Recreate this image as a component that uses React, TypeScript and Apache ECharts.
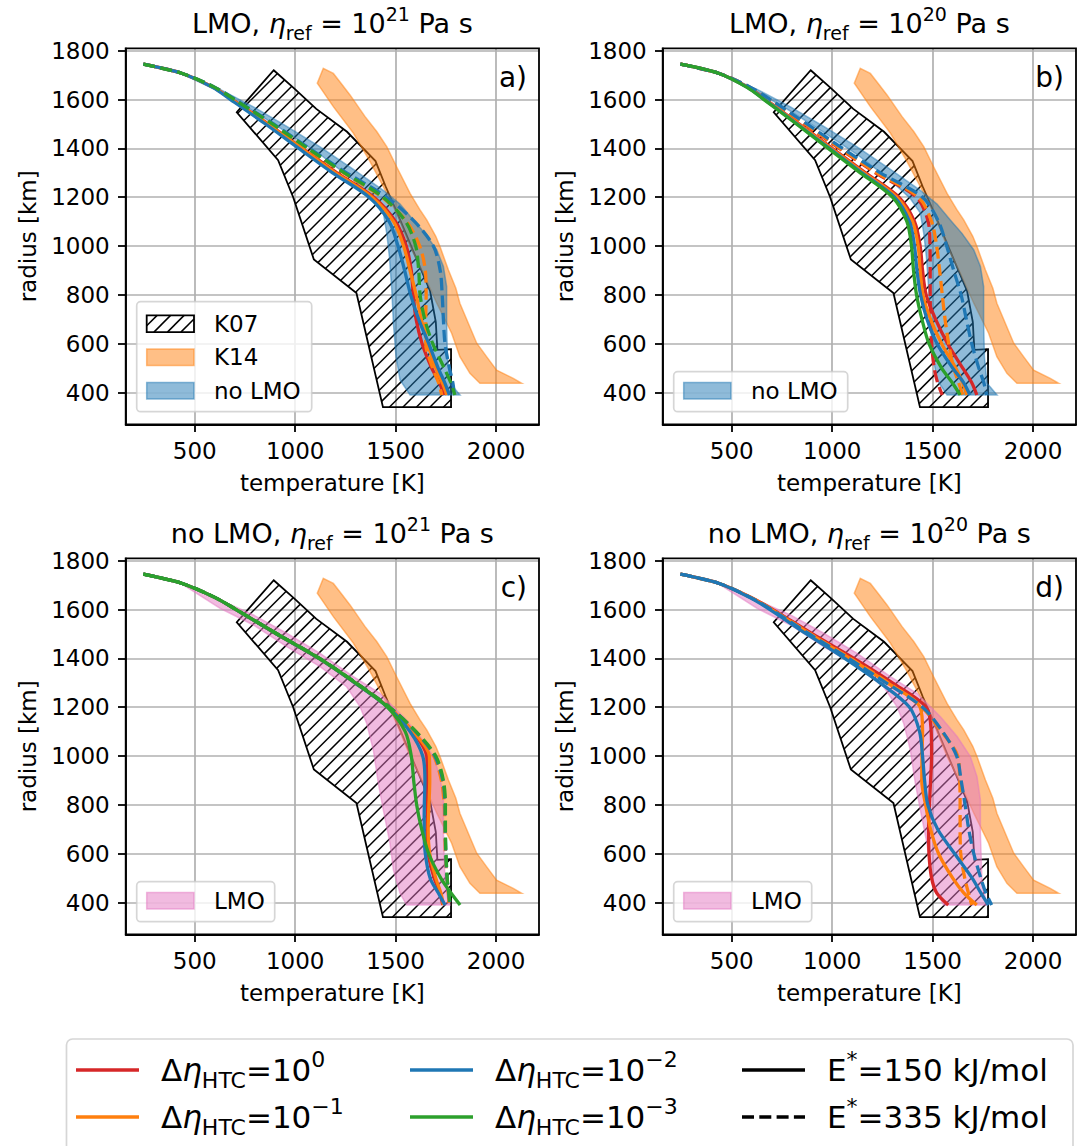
import React, { useEffect, useRef } from "react";
import * as echarts from "echarts";

const FONT = "DejaVu Sans";

// ---------- axes ----------
const T_MIN = 156;
const T_MAX = 2214;
const R_MIN = 270;
const R_MAX = 1810;
const TEMP_TICKS = [500, 1000, 1500, 2000];
const RADIUS_TICKS = [400, 600, 800, 1000, 1200, 1400, 1600, 1800];

// ---------- reference regions [T (K), radius (km)] ----------
const K07 = [
  [893, 1720], [992, 1648], [1105, 1562], [1258, 1468], [1400, 1348], [1450, 1245],
  [1510, 1132], [1672, 815], [1700, 690], [1708, 575], [1776, 578], [1776, 340],
  [1437, 340], [1305, 808], [1093, 945], [990, 1200], [915, 1352], [709, 1548],
];
const K14 = [
  [1140, 1728], [1190, 1707], [1230, 1665], [1273, 1619], [1310, 1575], [1348, 1530],
  [1406, 1469], [1456, 1407], [1505, 1325], [1572, 1216], [1620, 1150], [1655, 1107],
  [1700, 1040], [1721, 998], [1763, 902], [1800, 827], [1820, 766], [1862, 684],
  [1904, 602], [1953, 547], [2003, 492], [2086, 458], [2128, 438], [1920, 438],
  [1870, 479], [1820, 547], [1779, 643], [1705, 766], [1638, 888], [1572, 998],
  [1505, 1134], [1439, 1243], [1370, 1350], [1290, 1462], [1190, 1571], [1110, 1667],
];
const NO_LMO_BAND = [
  [443, 1702], [626, 1632], [792, 1553], [958, 1466], [1124, 1375], [1290, 1270],
  [1389, 1195], [1439, 1135], [1456, 1052], [1469, 957], [1481, 820], [1489, 684],
  [1502, 547], [1522, 452], [1572, 390], [1821, 390], [1771, 438], [1758, 547],
  [1754, 684], [1754, 834], [1738, 916], [1705, 984], [1646, 1052], [1588, 1107],
  [1522, 1172], [1439, 1228], [1290, 1314], [1124, 1406], [958, 1490], [792, 1570],
  [626, 1642], [443, 1707],
];
const LMO_BAND = [
  [443, 1701], [626, 1605], [792, 1537], [958, 1448], [1124, 1366], [1256, 1284],
  [1323, 1202], [1356, 1134], [1389, 1025], [1414, 888], [1439, 779], [1472, 643],
  [1489, 534], [1522, 438], [1555, 390], [1771, 390], [1746, 479], [1738, 684],
  [1738, 820], [1721, 916], [1688, 998], [1622, 1080], [1539, 1161], [1422, 1257],
  [1290, 1325], [1124, 1421], [958, 1503], [792, 1578], [626, 1639], [443, 1707],
];

// ---------- temperature profiles: T (K) at these radii (km) ----------
const RADIUS = [1745, 1707, 1650, 1600, 1500, 1400, 1300, 1200, 1100, 1000, 900, 800, 700, 600, 500, 440, 390];

// a) LMO, eta_ref = 1e21
const A_RED_SOLID = [244, 437, 593, 686, 866, 1035, 1208, 1392, 1500, 1553, 1578, 1588, 1602, 1632, 1680, 1718, 1742];
const A_ORANGE_SOLID = [244, 437, 592, 684, 862, 1030, 1200, 1383, 1490, 1540, 1572, 1602, 1628, 1660, 1700, 1733, 1755];
const A_ORANGE_DASHED = [244, 437, 598, 696, 882, 1058, 1240, 1432, 1555, 1620, 1648, 1652, 1650, 1650, 1685, 1714, 1730];
const A_BLUE_SOLID = [244, 437, 589, 678, 852, 1018, 1186, 1368, 1468, 1512, 1545, 1575, 1615, 1665, 1712, 1745, 1768];
const A_BLUE_DASHED = [244, 437, 601, 702, 892, 1070, 1256, 1456, 1595, 1688, 1722, 1732, 1738, 1746, 1768, 1785, 1793];
const A_GREEN_DASHED = [244, 437, 599, 698, 886, 1063, 1245, 1437, 1550, 1600, 1615, 1622, 1645, 1685, 1742, 1775, 1795];

// b) LMO, eta_ref = 1e20
const B_RED_SOLID = [244, 437, 582, 669, 836, 1000, 1166, 1332, 1410, 1438, 1450, 1468, 1515, 1575, 1650, 1695, 1720];
const B_RED_DASHED = [244, 437, 590, 685, 862, 1035, 1215, 1420, 1478, 1487, 1488, 1488, 1490, 1495, 1508, 1525, 1548];
const B_ORANGE_SOLID = [244, 437, 580, 666, 832, 994, 1158, 1322, 1400, 1428, 1438, 1452, 1490, 1545, 1615, 1650, 1670];
const B_ORANGE_DASHED = [244, 437, 591, 687, 866, 1040, 1222, 1430, 1495, 1520, 1535, 1548, 1562, 1580, 1605, 1630, 1650];
const B_BLUE_SOLID = [244, 437, 578, 663, 826, 986, 1148, 1310, 1385, 1410, 1422, 1440, 1472, 1522, 1600, 1655, 1686];
const B_BLUE_DASHED = [244, 437, 594, 692, 874, 1052, 1240, 1450, 1530, 1570, 1605, 1642, 1668, 1695, 1730, 1755, 1769];
const B_GREEN_SOLID = [244, 437, 576, 660, 822, 980, 1140, 1300, 1372, 1395, 1405, 1420, 1447, 1482, 1545, 1598, 1637];

// c) no LMO, eta_ref = 1e21
const C_RED_SOLID = [244, 437, 599, 705, 908, 1118, 1298, 1465, 1585, 1655, 1658, 1658, 1656, 1662, 1692, 1720, 1735];
const C_ORANGE_SOLID = [244, 437, 599, 705, 908, 1118, 1298, 1465, 1588, 1668, 1670, 1666, 1662, 1670, 1700, 1725, 1738];
const C_ORANGE_DASHED = [244, 437, 600, 706, 910, 1121, 1302, 1470, 1600, 1690, 1728, 1742, 1745, 1748, 1755, 1762, 1766];
const C_BLUE_SOLID = [244, 437, 599, 705, 908, 1118, 1297, 1462, 1572, 1635, 1646, 1643, 1642, 1648, 1672, 1712, 1746];
const C_BLUE_DASHED = [244, 437, 600, 706, 910, 1121, 1302, 1470, 1600, 1695, 1735, 1746, 1747, 1750, 1756, 1764, 1770];
const C_GREEN_SOLID = [244, 437, 600, 706, 910, 1120, 1300, 1460, 1548, 1578, 1590, 1605, 1630, 1665, 1725, 1775, 1821];
const C_GREEN_DASHED = [244, 437, 600, 706, 910, 1121, 1302, 1470, 1602, 1700, 1738, 1748, 1748, 1751, 1757, 1765, 1772];

// d) no LMO, eta_ref = 1e20
const D_RED_SOLID = [244, 437, 597, 705, 902, 1108, 1300, 1468, 1493, 1495, 1490, 1484, 1480, 1482, 1495, 1520, 1578];
const D_ORANGE_SOLID = [244, 437, 593, 699, 890, 1088, 1275, 1438, 1450, 1447, 1446, 1465, 1490, 1530, 1600, 1655, 1720];
const D_ORANGE_DASHED = [244, 437, 594, 700, 892, 1092, 1280, 1446, 1545, 1625, 1635, 1637, 1637, 1640, 1660, 1678, 1695];
const D_BLUE_SOLID = [244, 437, 588, 690, 872, 1062, 1238, 1385, 1435, 1450, 1460, 1476, 1525, 1610, 1697, 1740, 1778];
const D_BLUE_DASHED = [244, 437, 592, 697, 886, 1082, 1268, 1450, 1550, 1620, 1642, 1662, 1680, 1705, 1740, 1765, 1794];

const PANEL_RUNS: Record<string, (number[] | null)[]>[] = [
  { red: [A_RED_SOLID, null], orange: [A_ORANGE_SOLID, A_ORANGE_DASHED], blue: [A_BLUE_SOLID, A_BLUE_DASHED], green: [null, A_GREEN_DASHED] },
  { red: [B_RED_SOLID, B_RED_DASHED], orange: [B_ORANGE_SOLID, B_ORANGE_DASHED], blue: [B_BLUE_SOLID, B_BLUE_DASHED], green: [B_GREEN_SOLID, null] },
  { red: [C_RED_SOLID, null], orange: [C_ORANGE_SOLID, C_ORANGE_DASHED], blue: [C_BLUE_SOLID, C_BLUE_DASHED], green: [C_GREEN_SOLID, C_GREEN_DASHED] },
  { red: [D_RED_SOLID, null], orange: [D_ORANGE_SOLID, D_ORANGE_DASHED], blue: [D_BLUE_SOLID, D_BLUE_DASHED], green: [null, null] },
];

const PANEL_SCENARIO = ["LMO", "LMO", "no LMO", "no LMO"];
const PANEL_ETA_EXP = ["21", "20", "21", "20"];
const PANEL_LETTER = ["a)", "b)", "c)", "d)"];
const PANEL_BAND_LABEL = ["no LMO", "no LMO", "LMO", "LMO"];

const HTC_EXPONENTS = ["0", "\u22121", "\u22122", "\u22123"];
const ACTIVATION_ENERGIES = ["150", "335"];

// ---------- styling ----------
const COLORS: Record<string, string> = {
  red: "#d62728",
  orange: "#ff7f0e",
  blue: "#1f77b4",
  green: "#2ca02c",
};
const K14_FILL = "rgba(255,127,14,0.5)";
const NO_LMO_FILL = "rgba(31,119,180,0.5)";
const LMO_FILL = "rgba(227,119,194,0.5)";

const PANEL_POS = [
  [125.7, 48.3],
  [662.7, 48.3],
  [125.7, 558.3],
  [662.7, 558.3],
];
const PANEL_W = 413.3;
const PANEL_H = 376;
const LINE_W = 3.3;
const DASH = [12, 5.3];
const HATCH_STEP = 13.5;
const FS = 23;

function hatchSegments(pts: number[][], step: number) {
  const sums = pts.map((p) => p[0] + p[1]);
  const cmin = Math.min(...sums);
  const cmax = Math.max(...sums);
  const segs: number[][] = [];
  for (let c = Math.ceil(cmin / step) * step; c <= cmax; c += step) {
    const xs: number[] = [];
    for (let i = 0; i < pts.length; i++) {
      const a = pts[i];
      const b = pts[(i + 1) % pts.length];
      const fa = a[0] + a[1] - c;
      const fb = b[0] + b[1] - c;
      if ((fa < 0 && fb >= 0) || (fa >= 0 && fb < 0)) {
        const t = fa / (fa - fb);
        xs.push(a[0] + t * (b[0] - a[0]));
      }
    }
    xs.sort((p, q) => p - q);
    for (let k = 0; k + 1 < xs.length; k += 2) {
      segs.push([xs[k], c - xs[k], xs[k + 1], c - xs[k + 1]]);
    }
  }
  return segs;
}

function hatchElements(pts: number[][], z?: number) {
  return hatchSegments(pts, HATCH_STEP).map((s) => ({
    type: "line",
    z,
    shape: { x1: s[0], y1: s[1], x2: s[2], y2: s[3] },
    style: { stroke: "#000", lineWidth: 1.5 },
    silent: true,
  }));
}

function richBase(size: number) {
  const big = size;
  const small = Math.round(size * 0.7);
  return {
    n: { fontSize: big, fontFamily: FONT, fill: "#000", color: "#000", lineHeight: Math.round(big * 1.4) },
    i: { fontSize: big, fontFamily: FONT, fontStyle: "italic", fill: "#000", color: "#000", lineHeight: Math.round(big * 1.4) },
    s: { fontSize: small, fontFamily: FONT, fill: "#000", color: "#000", verticalAlign: "bottom", lineHeight: small },
    p: { fontSize: small, fontFamily: FONT, fill: "#000", color: "#000", verticalAlign: "top", lineHeight: small },
  };
}

function buildOption() {
  const grid: any[] = [];
  const xAxis: any[] = [];
  const yAxis: any[] = [];
  const series: any[] = [];
  const elements: any[] = [];

  PANEL_POS.forEach(([pl, pt], i) => {
    grid.push({ left: pl, top: pt, width: PANEL_W, height: PANEL_H, containLabel: false, outerBoundsMode: "none" });
    xAxis.push({
      gridIndex: i,
      type: "value",
      min: T_MIN,
      max: T_MAX,
      splitNumber: 5,
      axisLine: { show: true, onZero: false, lineStyle: { color: "#000", width: 1.8 } },
      axisTick: { show: true, length: 7.7, customValues: TEMP_TICKS, lineStyle: { color: "#000", width: 1.8 } },
      axisLabel: {
        customValues: TEMP_TICKS,
        margin: 15,
        fontSize: FS,
        fontFamily: FONT,
        color: "#000",
        formatter: (v: number) => (v % 500 === 0 ? String(v) : ""),
      },
      splitLine: { show: true, lineStyle: { color: "#b0b0b0", width: 1.7 } },
      name: "temperature [K]",
      nameLocation: "middle",
      nameGap: 47,
      nameTextStyle: { fontSize: FS, fontFamily: FONT, color: "#000" },
    });
    yAxis.push({
      gridIndex: i,
      type: "value",
      min: R_MIN,
      max: R_MAX,
      splitNumber: 8,
      axisLine: { show: true, onZero: false, lineStyle: { color: "#000", width: 1.8 } },
      axisTick: { show: true, length: 7.7, customValues: RADIUS_TICKS, lineStyle: { color: "#000", width: 1.8 } },
      axisLabel: {
        customValues: RADIUS_TICKS,
        margin: 16,
        fontSize: FS,
        fontFamily: FONT,
        color: "#000",
        formatter: (v: number) => (v % 200 === 0 && v >= 400 ? String(v) : ""),
      },
      splitLine: { show: true, lineStyle: { color: "#b0b0b0", width: 1.7 } },
      name: "radius [km]",
      nameLocation: "middle",
      nameGap: 86,
      nameRotate: 90,
      nameTextStyle: { fontSize: FS, fontFamily: FONT, color: "#000" },
    });

    // K07 hatched region
    series.push({
      type: "custom",
      coordinateSystem: "cartesian2d",
      xAxisIndex: i,
      yAxisIndex: i,
      z: 2,
      silent: true,
      data: [K07[0]],
      renderItem: (_params: any, api: any) => {
        const pts = K07.map((p) => api.coord(p));
        return {
          type: "group",
          children: [
            ...hatchElements(pts),
            { type: "polygon", shape: { points: pts }, style: { fill: "none", stroke: "#000", lineWidth: 1.8 } },
          ],
        };
      },
    });
    // K14 band
    series.push({
      type: "custom",
      coordinateSystem: "cartesian2d",
      xAxisIndex: i,
      yAxisIndex: i,
      z: 3,
      silent: true,
      data: [K14[0]],
      renderItem: (_params: any, api: any) => ({
        type: "polygon",
        shape: { points: K14.map((p) => api.coord(p)) },
        style: { fill: K14_FILL, stroke: K14_FILL, lineWidth: 1.5 },
      }),
    });
    // scenario envelope band
    const band = i < 2 ? NO_LMO_BAND : LMO_BAND;
    const bandFill = i < 2 ? NO_LMO_FILL : LMO_FILL;
    series.push({
      type: "custom",
      coordinateSystem: "cartesian2d",
      xAxisIndex: i,
      yAxisIndex: i,
      z: 4,
      silent: true,
      data: [band[0]],
      renderItem: (_params: any, api: any) => ({
        type: "polygon",
        shape: { points: band.map((p) => api.coord(p)) },
        style: { fill: bandFill, stroke: bandFill, lineWidth: 1.5 },
      }),
    });
    // model profiles
    const runs = PANEL_RUNS[i];
    ["red", "orange", "blue", "green"].forEach((c) => {
      runs[c].forEach((temps, k) => {
        if (!temps) return;
        series.push({
          type: "line",
          xAxisIndex: i,
          yAxisIndex: i,
          z: 5,
          silent: true,
          symbol: "none",
          showSymbol: false,
          smooth: 0.3,
          data: RADIUS.map((r, j) => [temps[j], r]),
          lineStyle: { color: COLORS[c], width: LINE_W, type: k === 1 ? DASH : "solid", cap: "butt", join: "round" },
          emphasis: { disabled: true },
        });
      });
    });

    // frame
    elements.push({
      type: "rect",
      z: 50,
      silent: true,
      shape: { x: pl, y: pt, width: PANEL_W, height: PANEL_H },
      style: { fill: "none", stroke: "#000", lineWidth: 1.8 },
    });
    // title
    elements.push({
      type: "text",
      z: 50,
      x: pl + PANEL_W / 2,
      y: pt - 25,
      style: {
        text: `{n|${PANEL_SCENARIO[i]}, }{i|\u03b7}{s|ref}{n| = 10}{p|${PANEL_ETA_EXP[i]}}{n| Pa s}`,
        rich: richBase(27),
        align: "center",
        verticalAlign: "middle",
        fontFamily: FONT,
        fontSize: 27,
      },
    });
    // panel letter
    elements.push({
      type: "text",
      z: 50,
      x: pl + PANEL_W - 12,
      y: pt + 29,
      style: { text: PANEL_LETTER[i], fontSize: 28, fontFamily: FONT, fill: "#000", align: "right", verticalAlign: "middle" },
    });

    // panel legend
    const entries: { label: string; kind: string }[] =
      i === 0
        ? [
            { label: "K07", kind: "hatch" },
            { label: "K14", kind: "k14" },
            { label: "no LMO", kind: "band" },
          ]
        : [{ label: PANEL_BAND_LABEL[i], kind: "band" }];
    const boxW = i === 0 ? 175 : i === 1 ? 174 : 138;
    const pitch = 33.5;
    const boxH = 40 + pitch * (entries.length - 1) + (entries.length > 1 ? 3 : 0);
    const boxBottom = pt + 363.4;
    elements.push({
      type: "rect",
      z: 60,
      silent: true,
      shape: { x: pl + 11, y: boxBottom - boxH, width: boxW, height: boxH, r: 4 },
      style: { fill: "rgba(255,255,255,0.8)", stroke: "rgba(204,204,204,0.8)", lineWidth: 1.7 },
    });
    entries.forEach((e, k) => {
      const rowY = boxBottom - 21 - pitch * (entries.length - 1 - k);
      const hx = pl + 21;
      const hy = rowY - 8.3;
      const hw = 47.3;
      const hh = 16.7;
      if (e.kind === "hatch") {
        const rectPts = [
          [hx, hy],
          [hx + hw, hy],
          [hx + hw, hy + hh],
          [hx, hy + hh],
        ];
        hatchElements(rectPts, 61).forEach((el) => elements.push(el));
        elements.push({
          type: "rect",
          z: 62,
          silent: true,
          shape: { x: hx, y: hy, width: hw, height: hh },
          style: { fill: "none", stroke: "#000", lineWidth: 1.8 },
        });
      } else {
        const f = e.kind === "k14" ? K14_FILL : bandFill;
        elements.push({
          type: "rect",
          z: 61,
          silent: true,
          shape: { x: hx, y: hy, width: hw, height: hh },
          style: { fill: f, stroke: f, lineWidth: 1.5 },
        });
      }
      elements.push({
        type: "text",
        z: 62,
        x: pl + 88.3,
        y: rowY,
        style: { text: e.label, fontSize: FS, fontFamily: FONT, fill: "#000", align: "left", verticalAlign: "middle" },
      });
    });
  });

  // bottom legend
  elements.push({
    type: "rect",
    z: 60,
    silent: true,
    shape: { x: 66.5, y: 1039, width: 1006.5, height: 150, r: 6 },
    style: { fill: "rgba(255,255,255,0.8)", stroke: "rgba(204,204,204,0.8)", lineWidth: 1.7 },
  });
  const rowYs = [1070, 1117];
  const colX = [76, 410, 742];
  const handleLen = 63;
  const legendItems = [
    { col: 0, row: 0, color: COLORS.red, dash: false, text: `{n|\u0394}{i|\u03b7}{s|HTC}{n|=10}{p|${HTC_EXPONENTS[0]}}` },
    { col: 0, row: 1, color: COLORS.orange, dash: false, text: `{n|\u0394}{i|\u03b7}{s|HTC}{n|=10}{p|${HTC_EXPONENTS[1]}}` },
    { col: 1, row: 0, color: COLORS.blue, dash: false, text: `{n|\u0394}{i|\u03b7}{s|HTC}{n|=10}{p|${HTC_EXPONENTS[2]}}` },
    { col: 1, row: 1, color: COLORS.green, dash: false, text: `{n|\u0394}{i|\u03b7}{s|HTC}{n|=10}{p|${HTC_EXPONENTS[3]}}` },
    { col: 2, row: 0, color: "#000", dash: false, text: `{n|E}{p|*}{n|=${ACTIVATION_ENERGIES[0]} kJ/mol}` },
    { col: 2, row: 1, color: "#000", dash: true, text: `{n|E}{p|*}{n|=${ACTIVATION_ENERGIES[1]} kJ/mol}` },
  ];
  legendItems.forEach((it) => {
    const x = colX[it.col];
    const y = rowYs[it.row];
    elements.push({
      type: "line",
      z: 61,
      silent: true,
      shape: { x1: x, y1: y, x2: x + handleLen, y2: y },
      style: { stroke: it.color, lineWidth: LINE_W, lineDash: it.dash ? DASH : null },
    });
    elements.push({
      type: "text",
      z: 62,
      x: x + handleLen + 22,
      y,
      style: { text: it.text, rich: richBase(31), align: "left", verticalAlign: "middle", fontFamily: FONT, fontSize: 31 },
    });
  });

  return {
    animation: false,
    backgroundColor: "#fff",
    textStyle: { fontFamily: FONT },
    grid,
    xAxis,
    yAxis,
    series,
    graphic: { elements },
  };
}

export default function App() {
  const ref = useRef<HTMLDivElement>(null);
  useEffect(() => {
    if (!ref.current) return;
    const chart = echarts.init(ref.current, null, { renderer: "svg", width: 1085, height: 1146 });
    chart.setOption(buildOption() as any);
    return () => chart.dispose();
  }, []);
  return (
    <div
      ref={ref}
      style={{ position: "absolute", left: 0, top: 0, width: 1085, height: 1146, background: "#fff" }}
    />
  );
}
